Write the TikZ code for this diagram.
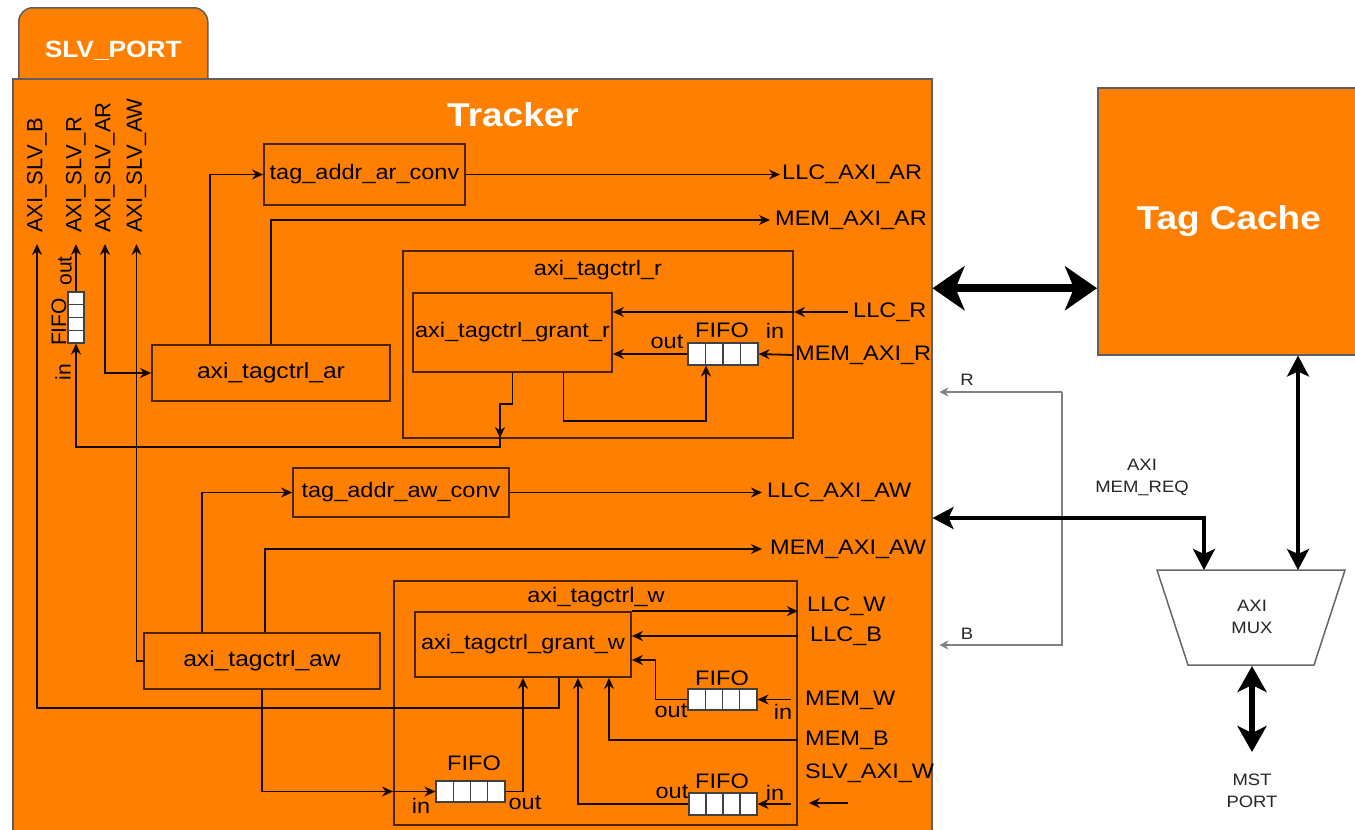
\documentclass[tikz,border=0pt]{standalone}
\usepackage{fontspec}
\setmainfont[FakeStretch=1.12]{Liberation Sans}
\newfontfamily\xrotfam{Liberation Sans}
\usetikzlibrary{arrows.meta,calc}
\definecolor{org}{HTML}{FF8000}
\definecolor{bdr}{HTML}{4A2400}
\definecolor{lin}{HTML}{140A00}
\definecolor{frm}{HTML}{5E5E5E}
\newcommand\xlabfont{\fontsize{21}{25}\selectfont}
\newcommand\xboxfont{\fontsize{22}{26}\selectfont}
\newcommand\xrotfont{\xrotfam\fontsize{22}{26}\selectfont}
\newcommand\xrotsmall{\xrotfam\fontsize{21}{25}\selectfont}
\newcommand\xsmallfont{\fontsize{16.5}{22}\selectfont}
\newcommand\xtitlefont{\fontsize{33}{38}\selectfont\bfseries}
\begin{document}
\begin{tikzpicture}[x=1pt,y=-1pt,
  every node/.style={inner sep=2pt},
  box/.style={draw=bdr, line width=1.8pt, fill=org, inner sep=0pt, font=\xlabfont},
  cont/.style={draw=bdr, line width=1.8pt, inner sep=0pt},
  lbl/.style={font=\xlabfont, text=black},
  rlab/.style={rotate=90, anchor=west, font=\xrotfont, inner xsep=11pt, inner ysep=1pt},
  rsm/.style={rotate=90, font=\xrotsmall, inner sep=1pt},
  sml/.style={font=\xsmallfont, text=black!85, align=center},
  arr/.style={draw=lin, line width=1.8pt, -{Stealth[length=11pt,width=10pt,inset=3.5pt]}},
  arrb/.style={draw=lin, line width=1.8pt, {Stealth[length=11pt,width=10pt,inset=3.5pt]}-{Stealth[length=11pt,width=10pt,inset=3.5pt]}},
  garr/.style={draw=black!50, line width=1.4pt, -{Stealth[length=9pt,width=9pt,inset=3pt]}},
  medarr/.style={draw=black, line width=3.8pt, {Stealth[length=21pt,width=22pt,inset=5pt]}-{Stealth[length=21pt,width=22pt,inset=5pt]}},
  bigarr/.style={draw=black, line width=8pt, {Stealth[length=32pt,width=44pt,inset=9pt]}-{Stealth[length=32pt,width=44pt,inset=9pt]}},
  bigarrb/.style={draw=black, line width=6pt, {Stealth[length=26pt,width=29pt,inset=7pt]}-{Stealth[length=26pt,width=29pt,inset=7pt]}},
  fifoh/.style={draw=black!75, line width=1.1pt, fill=white, inner sep=0pt,
    path picture={\foreach \i in {1,2,3}{\draw[black!75,line width=1.1pt]
      ($(path picture bounding box.south west)!{\i/4}!(path picture bounding box.south east)$) --
      ($(path picture bounding box.north west)!{\i/4}!(path picture bounding box.north east)$);}}},
  fifov/.style={draw=black!75, line width=1.1pt, fill=white, inner sep=0pt,
    path picture={\foreach \i in {1,2,3}{\draw[black!75,line width=1.1pt]
      ($(path picture bounding box.south west)!{\i/4}!(path picture bounding box.north west)$) --
      ($(path picture bounding box.south east)!{\i/4}!(path picture bounding box.north east)$);}}}
]
\useasboundingbox (0,0) rectangle (1355,830);
\fill[white] (0,0) rectangle (1355,830);

% ---------- outer blocks ----------
\node[draw=frm, fill=org, line width=1.5pt, rounded corners=14pt, minimum width=189pt, minimum height=86pt,
      anchor=north west, inner sep=0pt, text=white, font=\fontsize{23.5}{26}\selectfont\bfseries] (slvport) at (18,7) {SLV\_PORT};
\node[draw=frm, fill=org, line width=1.5pt, minimum width=919pt, minimum height=770pt, anchor=north west, inner sep=0pt] (trk) at (12,78) {};
\node[text=white, font=\xtitlefont] (trktitle) at (513,115) {Tracker};
\node[draw=frm, fill=org, line width=1.5pt, minimum width=275pt, minimum height=267pt, anchor=north west, inner sep=0pt,
      text=white, font=\xtitlefont] (tc) at (1097,87) {\hspace*{-4pt}Tag Cache\hspace*{9pt}};

% ---------- read side ----------
\node[cont, minimum width=390pt, minimum height=187pt] (tr) at (598,344.5) {};
\node[lbl] (trtitle) at (598,270) {axi\_tagctrl\_r};
\node[box, minimum width=201pt, minimum height=61pt] (arconv) at (364.5,174.5) {tag\_addr\_ar\_conv};
\node[box, minimum width=238pt, minimum height=56pt, font=\xboxfont] (tar) at (271,373) {axi\_tagctrl\_ar};
\node[box, minimum width=199pt, minimum height=79pt] (gr) at (512.5,332.5) {axi\_tagctrl\_grant\_r};
\node[fifoh, minimum width=70pt, minimum height=22pt] (fr) at (723,354) {};
\node[lbl] (frlab) at (722,330) {FIFO};
\node[lbl] (frout) at (667,342) {out};
\node[lbl] (frin) at (775,331) {in};

\node[lbl, anchor=west, inner sep=2pt] (llcaxiar) at (780,174.5) {LLC\_AXI\_AR};
\node[lbl, anchor=west, inner xsep=5pt] (memaxiar) at (770,220) {MEM\_AXI\_AR};
\node[lbl, anchor=west, inner xsep=5pt] (llcr) at (848,312) {LLC\_R};
\node[lbl, anchor=west, inner xsep=2pt] (memaxir) at (793,355) {MEM\_AXI\_R};

% vertical port labels
\node[rlab] (slvb) at (37,244) {AXI\_SLV\_B};
\node[rlab] (slvr) at (76,244) {AXI\_SLV\_R};
\node[rlab] (slvar) at (105,244) {AXI\_SLV\_AR};
\node[rlab] (slvaw) at (136.5,244) {AXI\_SLV\_AW};
\node[fifov, minimum width=16pt, minimum height=51pt] (fv) at (76,317.5) {};
\node[rsm] (fvlab) at (59,322) {FIFO};
\node[rsm] (fvout) at (65,271) {out};
\node[rsm] (fvin) at (63,372) {in};

% ---------- write side ----------
\node[cont, minimum width=403pt, minimum height=244pt] (tw) at (595.5,703) {};
\node[lbl] (twtitle) at (596,597) {axi\_tagctrl\_w};
\node[box, minimum width=216pt, minimum height=49pt] (awconv) at (401,492.5) {tag\_addr\_aw\_conv};
\node[box, minimum width=236pt, minimum height=56pt, font=\xboxfont] (taw) at (262,661) {axi\_tagctrl\_aw};
\node[box, minimum width=216pt, minimum height=65pt] (gw) at (523,644.5) {axi\_tagctrl\_grant\_w};
\node[fifoh, minimum width=69pt, minimum height=21pt] (fwm) at (722.5,699.5) {};
\node[fifoh, minimum width=69pt, minimum height=21pt] (fwl) at (470.5,791.5) {};
\node[fifoh, minimum width=68pt, minimum height=22pt] (fwr) at (723,804) {};
\node[lbl] (fwmlab) at (722,678) {FIFO};
\node[lbl] (fwmout) at (671,711) {out};
\node[lbl] (fwmin) at (783,712) {in};
\node[lbl] (fwllab) at (474,763) {FIFO};
\node[lbl] (fwlin) at (421,806) {in};
\node[lbl] (fwlout) at (525,803) {out};
\node[lbl] (fwrlab) at (722,781) {FIFO};
\node[lbl] (fwrout) at (672,792) {out};
\node[lbl] (fwrin) at (775,793) {in};

\node[lbl, anchor=west, inner xsep=5pt] (llcaxiaw) at (762,492.5) {LLC\_AXI\_AW};
\node[lbl, anchor=west, inner xsep=8pt] (memaxiaw) at (762,549) {MEM\_AXI\_AW};
\node[lbl, anchor=west] (llcw) at (805,606) {LLC\_W};
\node[lbl, anchor=west] (llcb) at (808,636) {LLC\_B};
\node[lbl, anchor=west] (memw) at (803,700) {MEM\_W};
\node[lbl, anchor=west, inner xsep=8pt] (memb) at (797,740) {MEM\_B};
\node[lbl, anchor=west] (slvaxiw) at (803,773) {SLV\_AXI\_W};

% ---------- right side ----------
\draw[draw=black!60, fill=white, line width=1.5pt] (1157,570) -- (1345,570) -- (1314,665) -- (1188,665) -- cycle;
\node[sml] (mux) at (1252,617) {AXI\\MUX};
\node[sml] (mrlab) at (1142,477) {AXI\\MEM\_REQ};
\node[sml] (mst) at (1252,791) {MST\\PORT};
\node[sml] (rlab) at (967,380) {R};
\node[sml] (blab) at (967,634) {B};
\coordinate (muxa) at (1204,570);
\coordinate (muxb) at (1298,570);
\coordinate (muxc) at (1252,666);
\coordinate (mstp) at (1252,752);
\coordinate (mrq) at (1204,518);
\coordinate (tca) at ($(tc.west)+(0,67)$);
\coordinate (rbc) at (1062,392);
\coordinate (bbc) at (1062,645);
\coordinate (rj) at (500,438);
\coordinate (swin) at (848,803);

% ---------- connectors: read ----------
\draw[arr] ($(tar.north west)+(59,0)$) |- (arconv.west);
\draw[arr] (tar.north) |- (memaxiar.west);
\draw[arr] (arconv.east) -- (llcaxiar.west);
\draw[arr] (llcr.west) -- (llcr.west -| tr.east);
\draw[arr] (llcr.west -| tr.east) -- (llcr.west -| gr.east);
\draw[arr] (memaxir.west) -- (fr.east);
\draw[arr] (fr.west) -- (fr.west -| gr.east);
\draw[arr] ($(gr.south)+(51,0)$) -- ++(0,48) -| ($(fr.south)+(-17,0)$);
\draw[arr] (gr.south) -- ++(0,31) -| (rj);
\draw[arr] (rj) -- ++(0,9) -| (fv.south);
\draw[arr] (fv.north) -- (slvr.west);
\draw[arrb] (slvar.west) |- (tar.west);
\draw[arr] (taw.west) -| (slvaw.west);
\draw[arr] ($(gw.south)+(36,0)$) -- ++(0,30) -| (slvb.west);

% ---------- connectors: write ----------
\draw[arr] ($(taw.north west)+(59,0)$) |- (awconv.west);
\draw[arr] ($(taw.north west)+(122,0)$) |- (memaxiaw.west);
\draw[arr] (awconv.east) -- (llcaxiaw.west);
\draw[arr] (taw.south) |- (fwl.west -| tw.west);
\draw[arr] (fwl.west -| tw.west) -- (fwl.west);
\draw[arr] (fwl.east) -| (gw.south);
\draw[arr] (fwr.west) -| ($(gw.south)+(55,0)$);
\draw[arr] (memb.west) -| ($(gw.south)+(86,0)$);
\draw[arr] (gw.north east) -- (gw.north east -| tw.east);
\draw[arr] (llcb.west -| tw.east) -- (llcb.west -| gw.east);
\draw[arr] ($(fwm.east)+(33,0)$) -- (fwm.east);
\draw[arr] (fwm.west) -- ++(-32,0) |- ($(gw.east)+(0,15.5)$);
\draw[arr] ($(fwr.east)+(33,0)$) -- (fwr.east);
\draw[arr, shorten >=11pt] (swin) -- (swin -| tw.east);

% ---------- connectors: right ----------
\draw[bigarr] (tca -| trk.east) -- (tca);
\draw[garr, shorten >=7pt] (rbc) -- (rbc -| trk.east);
\draw[garr, shorten >=7pt] (rbc) -- (bbc) -- (bbc -| trk.east);
\draw[medarr] (mrq -| trk.east) -| (muxa);
\draw[medarr, line width=3.4pt] (muxb |- tc.south) -- (muxb);
\draw[bigarrb] (muxc) -- (mstp);
\end{tikzpicture}
\end{document}
